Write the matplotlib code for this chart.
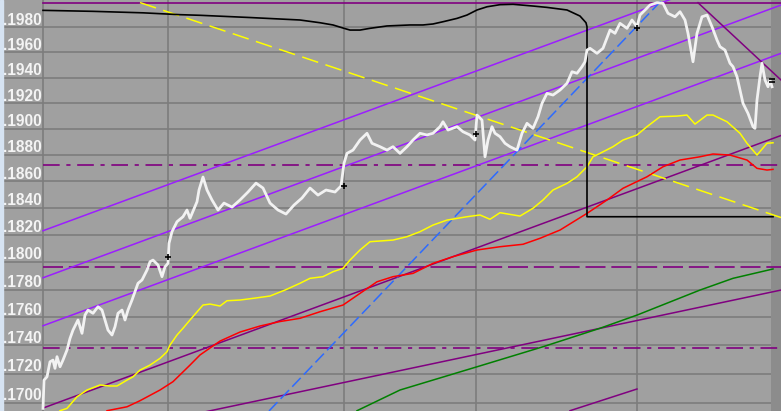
import matplotlib.pyplot as plt
import numpy as np
from matplotlib.transforms import ScaledTranslation
from matplotlib.patches import Rectangle

# x = bar index, y = price level (log scale)
grid_vals = [0.198, 0.196, 0.194, 0.192, 0.190, 0.188, 0.186, 0.184,
             0.182, 0.180, 0.178, 0.176, 0.174, 0.172, 0.170]
period_x = [0, 125, 301, 433, 594]

price = np.array([
    [0, 0.16961], [1, 0.17157], [4, 0.17180], [7, 0.17285], [10, 0.17297],
    [12, 0.17239], [14, 0.17321], [17, 0.17250], [20, 0.17297], [24, 0.17368],
    [27, 0.17450], [30, 0.17509], [35, 0.17581], [39, 0.17486], [42, 0.17616],
    [45, 0.17652], [50, 0.17629], [55, 0.17676], [59, 0.17652], [62, 0.17581],
    [65, 0.17509], [69, 0.17474], [72, 0.17533], [75, 0.17629], [79, 0.17652],
    [82, 0.17581], [85, 0.17652], [89, 0.17724], [92, 0.17784], [95, 0.17845],
    [99, 0.17869], [104, 0.17941], [107, 0.18002], [110, 0.18014], [115, 0.17978],
    [119, 0.17893], [122, 0.17965], [125, 0.17990], [126, 0.18137], [129, 0.18223],
    [134, 0.18297], [140, 0.18334], [144, 0.18384], [147, 0.18322], [154, 0.18446],
    [156, 0.18534], [160, 0.18632], [164, 0.18534], [169, 0.18459], [175, 0.18384],
    [181, 0.18436], [189, 0.18406], [197, 0.18459], [205, 0.18519], [213, 0.18586],
    [220, 0.18549], [227, 0.18436], [235, 0.18384], [243, 0.18354], [251, 0.18421],
    [259, 0.18474], [267, 0.18549], [275, 0.18496], [283, 0.18534], [292, 0.18519],
    [298, 0.18564], [301, 0.18736], [304, 0.18812], [310, 0.18837], [317, 0.18914],
    [324, 0.18966], [329, 0.18889], [337, 0.18863], [344, 0.18837], [350, 0.18863],
    [357, 0.18812], [364, 0.18863], [370, 0.18914], [377, 0.18966], [384, 0.18953],
    [390, 0.18966], [397, 0.19017], [400, 0.19055], [405, 0.18991], [414, 0.19017],
    [420, 0.18978], [427, 0.18953], [432, 0.18914], [434, 0.19107], [439, 0.19068],
    [442, 0.18786], [445, 0.18914], [449, 0.19017], [452, 0.18966], [457, 0.18940],
    [462, 0.18889], [467, 0.18863], [474, 0.18837], [479, 0.18966], [484, 0.19043],
    [490, 0.19004], [495, 0.19094], [499, 0.19198], [504, 0.19276], [510, 0.19263],
    [517, 0.19302], [524, 0.19355], [529, 0.19446], [534, 0.19434], [539, 0.19486],
    [542, 0.19525], [544, 0.19618], [547, 0.19632], [554, 0.19592], [560, 0.19632],
    [567, 0.19778], [572, 0.19752], [577, 0.19832], [584, 0.19792], [589, 0.19859],
    [594, 0.19805], [597, 0.19899], [602, 0.19940], [607, 0.19980], [614, 0.19999],
    [620, 0.19994], [625, 0.19913], [632, 0.19885], [637, 0.19926], [642, 0.19859],
    [645, 0.19752], [650, 0.19525], [654, 0.19752], [659, 0.19885], [664, 0.19899],
    [669, 0.19805], [674, 0.19698], [677, 0.19645], [682, 0.19618], [687, 0.19513],
    [690, 0.19486], [694, 0.19407], [697, 0.19302], [700, 0.19198], [705, 0.19120],
    [710, 0.19017], [712, 0.19004], [714, 0.19224], [717, 0.19407], [719, 0.19513],
    [722, 0.19381], [725, 0.19328], [727, 0.19381], [729, 0.19328],
])

yellow_ma = np.array([
    [17, 0.16945], [24, 0.16961], [34, 0.17041], [44, 0.17088], [57, 0.17123],
    [67, 0.17116], [74, 0.17116], [84, 0.17157], [90, 0.17180], [97, 0.17227],
    [107, 0.17262], [117, 0.17309], [124, 0.17356], [127, 0.17403], [134, 0.17474],
    [140, 0.17522], [147, 0.17581], [160, 0.17688], [167, 0.17695], [177, 0.17681],
    [184, 0.17719], [197, 0.17724], [212, 0.17738], [227, 0.17753], [242, 0.17796],
    [257, 0.17845], [267, 0.17881], [280, 0.17893], [290, 0.17929], [300, 0.17954],
    [307, 0.18014], [317, 0.18088], [327, 0.18149], [350, 0.18161], [364, 0.18186],
    [377, 0.18223], [390, 0.18272], [404, 0.18309], [424, 0.18334], [437, 0.18347],
    [447, 0.18315], [457, 0.18364], [477, 0.18339], [490, 0.18397], [500, 0.18459],
    [510, 0.18534], [524, 0.18584], [534, 0.18634], [544, 0.18710], [550, 0.18786],
    [557, 0.18812], [570, 0.18863], [580, 0.18914], [594, 0.18953], [604, 0.19017],
    [617, 0.19094], [634, 0.19099], [644, 0.19107], [652, 0.19037], [664, 0.19107],
    [670, 0.19107], [684, 0.19055], [697, 0.18966], [704, 0.18889], [714, 0.18799],
    [724, 0.18889], [730, 0.18893],
])

red_ma = np.array([
    [64, 0.16945], [84, 0.16972], [97, 0.17014], [117, 0.17088], [130, 0.17146],
    [147, 0.17262], [157, 0.17333], [177, 0.17431], [197, 0.17495], [217, 0.17538],
    [237, 0.17570], [257, 0.17593], [277, 0.17640], [300, 0.17688], [317, 0.17772],
    [334, 0.17856], [350, 0.17893], [370, 0.17917], [390, 0.17990], [410, 0.18039],
    [434, 0.18088], [457, 0.18112], [480, 0.18130], [497, 0.18174], [517, 0.18235],
    [544, 0.18359], [564, 0.18459], [580, 0.18547], [604, 0.18634], [620, 0.18710],
    [637, 0.18761], [657, 0.18786], [670, 0.18807], [687, 0.18799], [704, 0.18761],
    [714, 0.18698], [724, 0.18685], [730, 0.18690],
])

green_ma = np.array([
    [314, 0.16945], [357, 0.17088], [434, 0.17250], [500, 0.17391], [557, 0.17522],
    [594, 0.17616], [657, 0.17796], [690, 0.17881], [730, 0.17949],
])

black_ind = np.array([
    [0, 0.19937], [50, 0.19929], [100, 0.19917], [137, 0.19902], [157, 0.19897],
    [207, 0.19879], [257, 0.19859], [277, 0.19837], [290, 0.19819], [301, 0.19792],
    [307, 0.19778], [317, 0.19778], [327, 0.19792], [344, 0.19811], [367, 0.19819],
    [380, 0.19819], [390, 0.19827], [400, 0.19845], [414, 0.19872], [424, 0.19899],
    [434, 0.19940], [444, 0.19966], [457, 0.19983], [470, 0.19986], [490, 0.19972],
    [504, 0.19961], [524, 0.19940], [537, 0.19891], [543, 0.19837], [544, 0.19805],
    [544, 0.18334], [730, 0.18334],
])

# trend lines: (x0, v0, x1, v1)
channel = [(0, 0.18230, 738, 0.2036), (0, 0.17885, 738, 0.19980),
           (0, 0.17540, 738, 0.19592)]
dark_trend = [(0, 0.16963, 738, 0.18949), (0, 0.16703, 738, 0.17796),
              (527, 0.16945, 594, 0.17095), (655, 0.19999, 738, 0.19381)]
yellow_trend = (97, 0.20000, 738, 0.18328)
blue_trend = (226, 0.16943, 619, 0.20021)

top_level = 0.2000
dashdot_levels = [0.1872, 0.1738]
dash_level = 0.17965

mark_x = [125, 301, 433, 594]
mark_v = [0.18040, 0.18564, 0.18958, 0.19792]
last_x = 729
last_v = [0.19389, 0.19365]

BG = '#a0a0a0'
GRID = '#7c7c7c'
VIOLET = '#9b1dff'
DPURPLE = '#800080'

fig = plt.figure(figsize=(7.81, 4.11), dpi=100, facecolor=BG)
ax = fig.add_axes([0, 0, 1, 1])
ax.set_facecolor(BG)
ax.set_yscale('log')
ax.set_xlim(-43, 738)
ax.set_ylim(0.16943, 0.20021)
for s in ax.spines.values():
    s.set_visible(False)
ax.set_xticks([])
ax.set_yticks([])
ax.yaxis.set_minor_locator(plt.NullLocator())

# grid
for v in grid_vals:
    ax.axhline(v, xmin=3 / 781, xmax=771 / 781, color=GRID, lw=1.2, zorder=1)
for x in period_x:
    ax.axvline(x, color=GRID, lw=1.2, zorder=1)
ax.axvspan(728, 738, color='#8c8c8c', lw=0, zorder=1.5)

# price labels above each grid line
off = ax.transData + ScaledTranslation(0, 2.5 / 100, fig.dpi_scale_trans)
for v in grid_vals:
    ax.text(-40.5, v, '{:.4f}'.format(v)[1:], transform=off, ha='left',
            va='baseline', color='#f4f4f4', fontsize=11.2, fontweight='bold',
            family='Liberation Sans', zorder=5)

# horizontal levels
ax.axhline(top_level, xmin=43 / 781, color=DPURPLE, lw=1.2, zorder=2)
for v in dashdot_levels:
    ax.axhline(v, xmin=43 / 781, color=DPURPLE, lw=1.2,
               dashes=(10, 4, 2.5, 4), zorder=2)
ax.axhline(dash_level, xmin=43 / 781, color=DPURPLE, lw=1.2,
           dashes=(12, 3.5), zorder=2)

# trend lines
for x0, v0, x1, v1 in channel:
    ax.plot([x0, x1], [v0, v1], color=VIOLET, lw=1.1, zorder=3)
for x0, v0, x1, v1 in dark_trend:
    ax.plot([x0, x1], [v0, v1], color=DPURPLE, lw=1.1, zorder=3)
ax.plot(yellow_trend[::2], yellow_trend[1::2], color='#ffff00', lw=1.1,
        dashes=(11, 5), zorder=3)
ax.plot(blue_trend[::2], blue_trend[1::2], color='#2d6bff', lw=1.1,
        dashes=(8, 3), zorder=3)

# moving averages / indicators
ax.plot(green_ma[:, 0], green_ma[:, 1], color='#008000', lw=1.1, zorder=3)
ax.plot(red_ma[:, 0], red_ma[:, 1], color='#ff0000', lw=1.1, zorder=3)
ax.plot(yellow_ma[:, 0], yellow_ma[:, 1], color='#ffff00', lw=1.1, zorder=3)
ax.plot(black_ind[:, 0], black_ind[:, 1], color='black', lw=1.2, zorder=3)

# price
ax.plot(price[:, 0], price[:, 1], color='#f2f2f2', lw=2.0, zorder=4)
ax.plot(mark_x, mark_v, '+', color='black', ms=5, mew=1.2, zorder=5)
ax.plot([last_x, last_x], last_v, '_', color='black', ms=5, mew=1.2, zorder=5)

fig.patches.append(Rectangle((0, 0), 3 / 781, 1, transform=fig.transFigure,
                             color='#d6e3f2', zorder=10))

fig.savefig('out.png', dpi=100, facecolor=BG)
